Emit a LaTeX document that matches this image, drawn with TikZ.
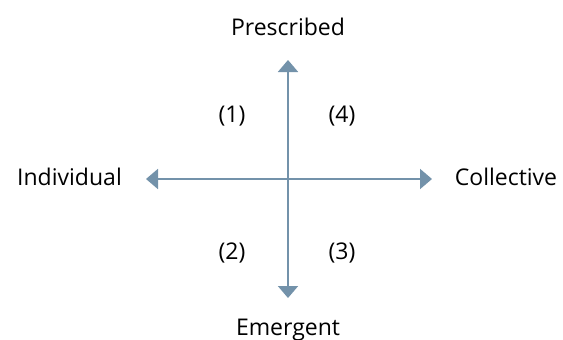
\documentclass[tikz,border=0pt]{standalone}
\usepackage{fontspec}
\setmainfont{Open Sans}
\usetikzlibrary{arrows.meta}
\definecolor{axiscol}{HTML}{7392AA}
\tikzset{
  axis/.style={draw=axiscol, line width=2pt, -{Triangle[width=20pt,length=12pt]}},
  lbl/.style={font=\fontsize{23}{27}\selectfont, text=black, inner sep=0pt, anchor=base},
}
\begin{document}
\begin{tikzpicture}[x=1pt,y=-1pt]
\useasboundingbox (0,0) rectangle (563,340);
\coordinate (c) at (288,179);
\coordinate (top) at (288,60);
\coordinate (bot) at (288,298);
\coordinate (lft) at (146,179);
\coordinate (rgt) at (432,179);
\draw[axis] (c) -- (top);
\draw[axis] (c) -- (bot);
\draw[axis] (c) -- (lft);
\draw[axis] (c) -- (rgt);
\node[lbl] (pres) at (288,35) {Prescribed};
\node[lbl] (emer) at (288,335) {Emergent};
\node[lbl] (ind) at (69.5,185) {Individual};
\node[lbl] (col) at (506,185) {Collective};
\node[lbl] (q1) at (232,122) {(1)};
\node[lbl] (q4) at (342,122) {(4)};
\node[lbl] (q2) at (232,259) {(2)};
\node[lbl] (q3) at (342,259) {(3)};
\end{tikzpicture}
\end{document}
